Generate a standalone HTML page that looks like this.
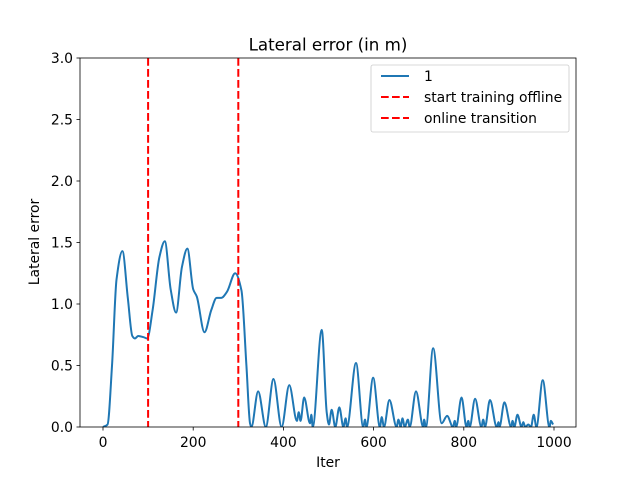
<!DOCTYPE html>
<html><head><meta charset="utf-8"><style>
body{margin:0;background:#fff;font-family:"Liberation Sans","DejaVu Sans",sans-serif}
svg text{font-family:"DejaVu Sans","Liberation Sans",sans-serif;font-size:13.9px;fill:#000}
</style></head><body>
<svg id="chart" width="640" height="480" viewBox="0 0 640 480" xmlns="http://www.w3.org/2000/svg">
<rect width="640" height="480" fill="#fff"/>
<text x="328" y="50.5" text-anchor="middle" style="font-size:16.7px">Lateral error (in m)</text>
<g id="xticks"></g>
<g id="yticks"></g>
<g id="plot"></g>
<rect x="80" y="58" width="496" height="369" fill="none" stroke="#000" stroke-width="0.8"/>
<text x="328" y="467" text-anchor="middle">Iter</text>
<text x="39" y="242" text-anchor="middle" transform="rotate(-90 39 242)">Lateral error</text>
<g>
<rect x="371" y="65" width="198" height="67" rx="2" fill="#fff" fill-opacity="0.8" stroke="#ccc" stroke-width="0.8"/>
<g><line x1="381" y1="76" x2="409" y2="76" stroke="#1f77b4" stroke-width="2"/><text x="424" y="81">1</text></g>
<g><line x1="381" y1="97" x2="409" y2="97" stroke="red" stroke-width="2" stroke-dasharray="7.7,3.3"/><text x="424" y="102">start training offline</text></g>
<g><line x1="381" y1="118" x2="409" y2="118" stroke="red" stroke-width="2" stroke-dasharray="7.7,3.3"/><text x="424" y="123">online transition</text></g>
</g>
</svg>
<script>
const iters=[0,10,20,30,43,55,65,71,78,90,98,110,125,137,150,162,175,187,200,208,225,240,252,262,275,293,307,318,326,329,344,361,378,396,413,430,434,438,446,459,462,465,485,496,501,507,515,524,533,538,541,561,577,581,584,599,614,618,623,635,651,655,660,664,669,676,680,694,710,712,716,732,751,763,776,780,783,795,806,810,813,825,839,843,847,858,873,877,879,890,905,908,912,919,928,932,936,943,949,955,961,975,990,993,998];
const errors=[0,0.02,0.5,1.2,1.43,1.05,0.74,0.72,0.74,0.73,0.72,0.95,1.38,1.51,1.12,0.93,1.3,1.45,1.12,1.06,0.77,0.95,1.05,1.05,1.1,1.25,1.11,0.5,0.03,0,0.29,0,0.39,0,0.34,0.05,0.12,0.05,0.24,0.03,0.1,0,0.79,0.12,0.02,0.14,0,0.16,0,0.07,0,0.52,0,0.06,0,0.40,0,0.08,0,0.22,0,0.06,0,0.07,0,0.06,0,0.29,0,0.06,0,0.64,0.03,0.09,0,0.05,0,0.24,0,0.05,0,0.23,0,0.06,0,0.22,0,0.04,0,0.2,0,0.05,0,0.1,0,0.04,0,0.02,0,0.1,0,0.38,0,0.05,0.02];
const vlines=[100,300];
const xTickVals=[0,200,400,600,800,1000];
const yTickVals=[0,0.5,1,1.5,2,2.5,3];
const X=v=>103+v*0.451, Y=v=>427-v*123;
const NS='http://www.w3.org/2000/svg';
function mk(t,a,p){const e=document.createElementNS(NS,t);for(const k in a)e.setAttribute(k,a[k]);p.appendChild(e);return e;}
const xg=document.getElementById('xticks'),yg=document.getElementById('yticks'),pg=document.getElementById('plot');
xTickVals.forEach(v=>{const g=mk('g',{},xg);


mk('line',{x1:X(v),x2:X(v),y1:427,y2:430.5,stroke:'#000','stroke-width':0.8},g);
const t=mk('text',{x:X(v),y:447,'text-anchor':'middle'},g);t.textContent=v;});
yTickVals.forEach(v=>{const g=mk('g',{},yg);


mk('line',{x1:76.5,x2:80,y1:Y(v),y2:Y(v),stroke:'#000','stroke-width':0.8},g);
const t=mk('text',{x:73,y:Y(v)+5,'text-anchor':'end'},g);t.textContent=v.toFixed(1);});
const px=iters.map(X),py=errors.map(Y),n=px.length;
const d=[],m=new Array(n);
for(let i=0;i<n-1;i++)d.push((py[i+1]-py[i])/(px[i+1]-px[i]));
m[0]=d[0];m[n-1]=d[n-2];
for(let i=1;i<n-1;i++){m[i]=(d[i-1]*d[i]<=0)?0:(2/(1/d[i-1]+1/d[i]));}
let path='M'+px[0]+','+py[0];
for(let i=0;i<n-1;i++){const h=(px[i+1]-px[i])/3;
path+=' C'+(px[i]+h)+','+(py[i]+m[i]*h)+' '+(px[i+1]-h)+','+(py[i+1]-m[i+1]*h)+' '+px[i+1]+','+py[i+1];}
const clip=mk('clipPath',{id:'clp'},pg);mk('rect',{x:80,y:58,width:496,height:369},clip);
const line=mk('path',{d:path,fill:'none',stroke:'#1f77b4','stroke-width':2,'stroke-linejoin':'round','clip-path':'url(#clp)'},pg);


vlines.forEach(v=>{const l=mk('line',{x1:X(v),x2:X(v),y1:58,y2:427,stroke:'red','stroke-width':2,'stroke-dasharray':'7.7,3.3'},pg);

});
</script>
</body></html>
